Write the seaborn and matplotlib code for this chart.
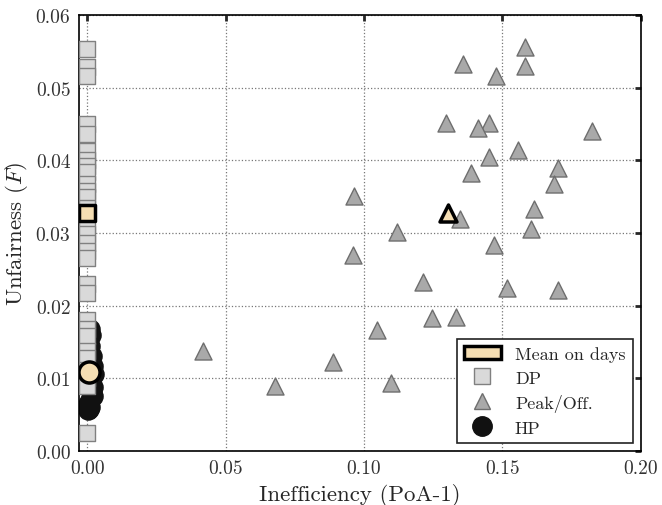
import numpy as np
import pandas as pd
import matplotlib
matplotlib.use("Agg")
import matplotlib.pyplot as plt
from matplotlib.patches import Patch
from matplotlib.lines import Line2D
import seaborn as sns

# values
# DP: all at zero inefficiency
dp_y = [0.0553, 0.0528, 0.0516, 0.0450, 0.0437, 0.0413, 0.0401, 0.0392,
        0.0384, 0.0368, 0.0358, 0.0349, 0.0334, 0.0313, 0.0298, 0.0286,
        0.0275, 0.0266, 0.0230, 0.0218, 0.0180, 0.0168, 0.0158, 0.0138,
        0.0128, 0.0112, 0.0100, 0.0089, 0.0025]
dp_x = [0.0] * len(dp_y)

# Peak/Off.
peak_x = [0.158, 0.158, 0.1357, 0.1478, 0.1298, 0.1452, 0.1412, 0.1823,
          0.1555, 0.1452, 0.170, 0.1387, 0.1685, 0.0964, 0.1616, 0.1348,
          0.1603, 0.1118, 0.0962, 0.1471, 0.1213, 0.1518, 0.170, 0.1246,
          0.1334, 0.1048, 0.0417, 0.0888, 0.0679, 0.1096]
peak_y = [0.0556, 0.0530, 0.0533, 0.0516, 0.0451, 0.0452, 0.0445, 0.0440,
          0.0414, 0.0405, 0.0390, 0.0382, 0.0367, 0.0351, 0.0333, 0.0320,
          0.0306, 0.0301, 0.0270, 0.0284, 0.0233, 0.0224, 0.0222, 0.0183,
          0.0184, 0.0166, 0.0137, 0.0122, 0.0090, 0.0094]

# HP
hp_x = [0.0010, 0.0015, 0.0005, 0.0012, 0.0008, 0.0016, 0.0010, 0.0020,
        0.0026, 0.0015, 0.0008, 0.0022, 0.0018, 0.0023, 0.0010, 0.0005,
        0.0012, 0.0003, 0.0008]
hp_y = [0.0168, 0.0160, 0.0152, 0.0145, 0.0138, 0.0130, 0.0124, 0.0117,
        0.0106, 0.0100, 0.0095, 0.0088, 0.0080, 0.0075, 0.0070, 0.0065,
        0.0060, 0.0056, 0.0058]

# means on days
mean_dp = (0.0, 0.0328)
mean_peak = (0.1304, 0.0327)
mean_hp = (0.0006, 0.0108)

wheat = "#f5deb3"
dp_col = "#d9d9d9"
peak_col = "#a9a9a9"

sns.set_style("white")
plt.rcParams["font.family"] = ["cmr10", "DejaVu Serif"]
plt.rcParams["mathtext.fontset"] = "cm"
plt.rcParams["axes.formatter.use_mathtext"] = True

fig, ax = plt.subplots(figsize=(6.62, 5.06), dpi=100)
fig.subplots_adjust(left=0.119, right=0.968, top=0.968, bottom=0.107)

sns.scatterplot(x=hp_x, y=hp_y, ax=ax, marker="o", s=190, color="#111111",
                edgecolor="#111111", linewidth=1, zorder=2, legend=False)
sns.scatterplot(x=dp_x, y=dp_y, ax=ax, marker="s", s=125, color=dp_col,
                edgecolor="#808080", linewidth=1, zorder=3, legend=False)
sns.scatterplot(x=peak_x, y=peak_y, ax=ax, marker="^", s=150, color=peak_col,
                edgecolor="#6e6e6e", linewidth=1, zorder=3, legend=False)

means = pd.DataFrame({
    "x": [mean_dp[0], mean_peak[0], mean_hp[0]],
    "y": [mean_dp[1], mean_peak[1], mean_hp[1]],
    "m": ["s", "^", "o"],
    "s": [125, 150, 230],
})
for _, r in means.iterrows():
    sns.scatterplot(x=[r.x], y=[r.y], ax=ax, marker=r.m, s=r.s, color=wheat,
                    edgecolor="black", linewidth=2.5, zorder=5, legend=False)

ax.set_xlim(-0.003, 0.2)
ax.set_ylim(0, 0.06)
ax.set_xticks(np.arange(0, 0.201, 0.05))
ax.set_yticks(np.arange(0, 0.061, 0.01))
ax.xaxis.set_major_formatter(matplotlib.ticker.FormatStrFormatter("%.2f"))
ax.yaxis.set_major_formatter(matplotlib.ticker.FormatStrFormatter("%.2f"))
ax.grid(True, linestyle=":", color="#777777", linewidth=0.9)
ax.set_axisbelow(True)
ax.tick_params(direction="in", top=True, right=True, length=4, width=2,
               labelsize=14, labelcolor="#333333", pad=6)
for sp in ax.spines.values():
    sp.set_color("black")
    sp.set_linewidth(1.2)

ax.set_xlabel("Inefficiency (PoA-1)", fontsize=16.5)
ax.set_ylabel("Unfairness ($F$)", fontsize=16.5)

handles = [
    Patch(facecolor=wheat, edgecolor="black", linewidth=2.5),
    Line2D([], [], ls="", marker="s", markersize=11, markerfacecolor=dp_col,
           markeredgecolor="#808080"),
    Line2D([], [], ls="", marker="^", markersize=12, markerfacecolor=peak_col,
           markeredgecolor="#6e6e6e"),
    Line2D([], [], ls="", marker="o", markersize=14, markerfacecolor="#111111",
           markeredgecolor="#111111"),
]
labels = ["Mean on days", "DP", "Peak/Off.", "HP"]
leg = ax.legend(handles, labels, loc="lower right", fontsize=13, fancybox=False,
                framealpha=1, edgecolor="#222222", borderaxespad=0.45,
                handlelength=2.0, labelspacing=0.45)
leg.get_frame().set_linewidth(1.2)

fig.savefig("out.png", dpi=100)
